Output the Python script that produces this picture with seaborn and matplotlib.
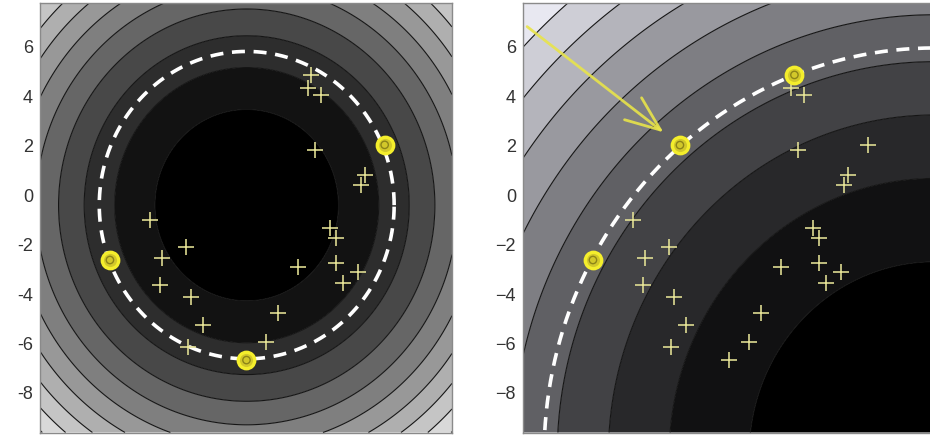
import numpy as np
import pandas as pd
import matplotlib
matplotlib.use("Agg")
import matplotlib.pyplot as plt
import seaborn as sns

# Training points, shared by both panels
pts_x = [1.85, 1.71, 2.27, 1.99, 4.10, 3.96, -4.96, 2.62, 2.90, -3.42, -4.47, 2.90,
         1.29, 3.81, 3.18, -4.54, -3.21, 0.44, -2.72, -0.05, -3.35, 4.94, -6.65, -0.89]
pts_y = [4.87, 4.33, 4.06, 1.83, 0.82, 0.42, -1.00, -1.34, -1.74, -2.08, -2.55, -2.75,
         -2.89, -3.09, -3.56, -3.63, -4.10, -4.78, -5.25, -5.92, -6.13, 2.04, -2.62, -6.67]

# Point added in the right panel
new_x = [-2.98]
new_y = [2.03]

# Support vectors (indices into the shared points)
left_sv = [21, 22, 23]
right_sv = [0, 22]

# Sphere description for each panel
left_center = (-0.88, -0.40)
left_radius = 6.22
right_center = (7.75, -10.50)
right_radius = 16.46

# Contour levels of squared distance to the centre
left_levels = [15, 31, 47, 63, 79, 95, 111, 127, 143, 159]
right_levels = [61, 125, 189, 253, 317, 381, 445, 509, 573]

y_ticks = [-8, -6, -4, -2, 0, 2, 4, 6]
left_tick_labels = ["-8", "-6", "-4", "-2", "0", "2", "4", "6"]
right_tick_labels = ["\u22128", "\u22126", "\u22124", "\u22122", "0", "2", "4", "6"]

LIM = (-9.6, 7.78)

# Grey shade of each filled band, from the centre outwards
left_band_grey = [0, 18, 45, 72, 102, 127, 152, 175, 197, 217, 236]
right_band_grey = [0, 17, 40, 66, 96, 126, 153, 180, 206, 232]

sns.set_style("white")
plt.rcParams["font.family"] = ["Liberation Sans", "DejaVu Sans"]

fig = plt.figure(figsize=(9.3, 4.37), dpi=100)
axL = fig.add_axes([40 / 930, 4.5 / 437, 412 / 930, 429.5 / 437])
axR = fig.add_axes([523 / 930, 4.5 / 437, 412 / 930, 429.5 / 437])

cross_color = "#e6e396"
sv_face = "#d2c82a"
sv_edge = "#f4ee2c"


def shades(greys, tint=0):
    out = []
    for g in greys:
        b = min(255, g + tint * g / 255)
        out.append((g / 255, g / 255, b / 255))
    return out


def draw_panel(ax, center, radius, levels, greys, tint, xs, ys, sv_x, sv_y, labels):
    gx = np.linspace(LIM[0], LIM[1], 500)
    X, Y = np.meshgrid(gx, gx)
    Z = (X - center[0]) ** 2 + (Y - center[1]) ** 2
    bounds = [0] + list(levels) + [max(Z.max(), levels[-1]) + 1]
    ax.contourf(X, Y, Z, levels=bounds, colors=shades(greys, tint), antialiased=True)
    ax.contour(X, Y, Z, levels=levels, colors="#151515", linewidths=0.8)

    # boundary of the description
    t = np.linspace(0, 2 * np.pi, 721)
    circ = pd.DataFrame({"x": center[0] + radius * np.cos(t),
                         "y": center[1] + radius * np.sin(t)})
    sns.lineplot(data=circ, x="x", y="y", sort=False, estimator=None, ax=ax,
                 color="white", linewidth=2.6, dashes=False, legend=False)
    ax.lines[-1].set_dashes((3.6, 2.4))

    pts = pd.DataFrame({"x": xs, "y": ys})
    sns.scatterplot(data=pts, x="x", y="y", marker="+", s=120, color=cross_color,
                    linewidth=1.15, ax=ax, legend=False, zorder=4)
    sv = pd.DataFrame({"x": sv_x, "y": sv_y})
    sns.scatterplot(data=sv, x="x", y="y", marker="o", s=140, color=sv_face,
                    edgecolor=sv_edge, linewidth=2.4, ax=ax, legend=False, zorder=5)
    sns.scatterplot(data=sv, x="x", y="y", marker="o", s=28, facecolor="none",
                    edgecolor="#8c8418", linewidth=1.0, ax=ax, legend=False, zorder=6)

    ax.set_xlim(*LIM)
    ax.set_ylim(*LIM)
    ax.set_xticks([])
    ax.set_yticks(y_ticks)
    ax.set_yticklabels(labels)
    ax.tick_params(axis="y", length=0, pad=5, labelsize=13, labelcolor="#333333")
    ax.set_xlabel("")
    ax.set_ylabel("")
    for s in ax.spines.values():
        s.set_color("#8a8a8a")
        s.set_linewidth(1.0)


# Left panel: original data
draw_panel(axL, left_center, left_radius, left_levels, left_band_grey, 0,
           pts_x, pts_y,
           [pts_x[i] for i in left_sv], [pts_y[i] for i in left_sv], left_tick_labels)

# Right panel: data with the added point
draw_panel(axR, right_center, right_radius, right_levels, right_band_grey, 10,
           pts_x + new_x, pts_y + new_y,
           [pts_x[i] for i in right_sv] + new_x, [pts_y[i] for i in right_sv] + new_y,
           right_tick_labels)

axR.annotate("", xy=(new_x[0], new_y[0]), xytext=(0.01, 0.945),
             textcoords="axes fraction",
             arrowprops=dict(arrowstyle="->,head_length=2.5,head_width=1.0",
                             color="#e8e44a", lw=2.0, shrinkA=0, shrinkB=15, alpha=0.9),
             zorder=7)

fig.savefig("out.png", dpi=100)
